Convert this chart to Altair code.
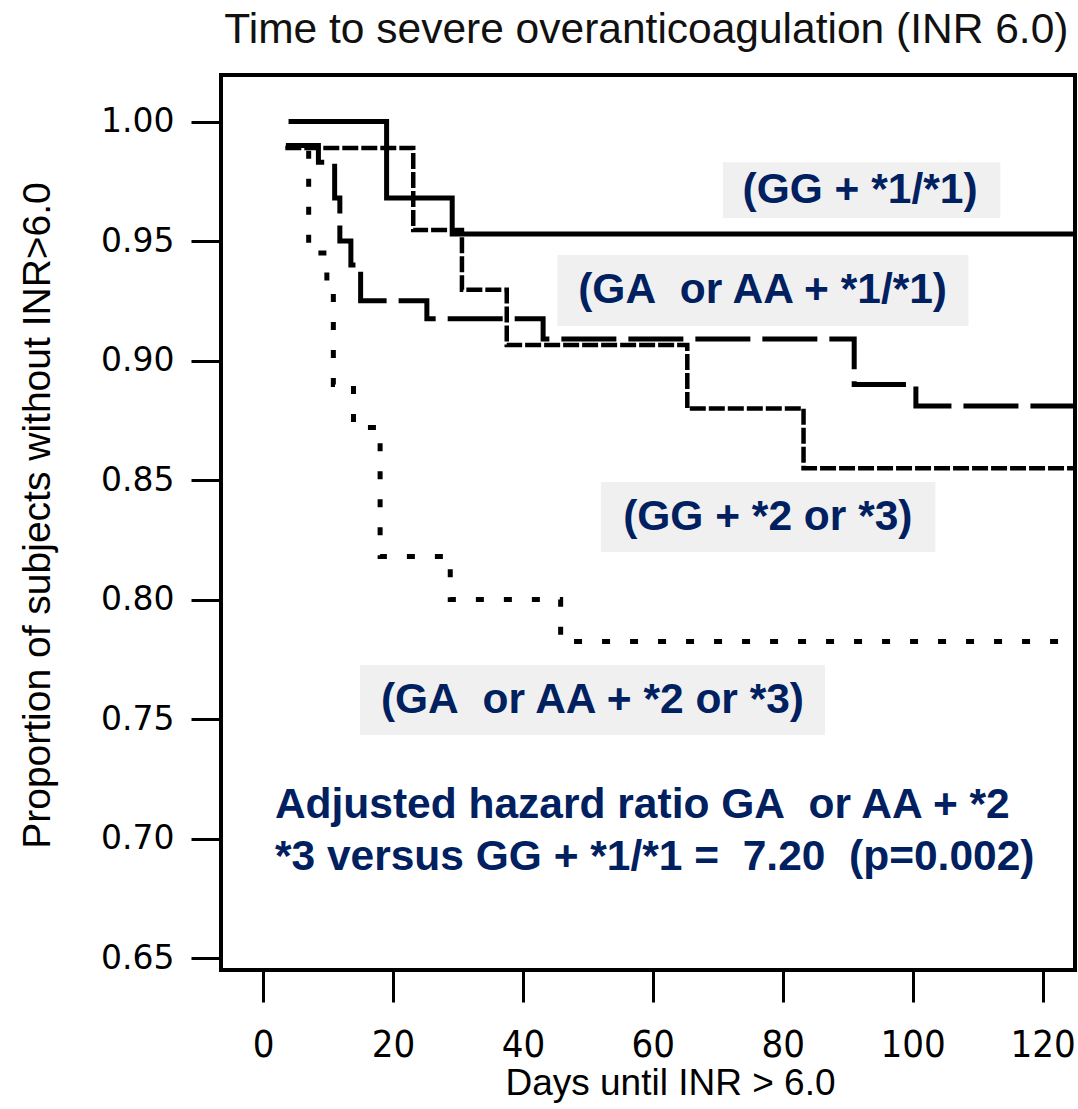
import altair as alt
import pandas as pd

# ---------------- data ----------------
X_END = 125.0

series_names = [
    "GG + *1/*1",
    "GA or AA + *1/*1",
    "GG + *2 or *3",
    "GA or AA + *2 or *3",
]

a_days = [3.9, 19.0, 29.1]
a_surv = [1.000, 0.968, 0.953]

b_days = [3.5, 8.5, 11.0, 11.8, 13.5, 15.0, 25.2, 43.1, 91.0, 100.5]
b_surv = [0.990, 0.983, 0.968, 0.950, 0.940, 0.925, 0.9175, 0.909, 0.890, 0.881]

c_days = [3.4, 23.1, 30.6, 37.5, 65.3, 83.2]
c_surv = [0.989, 0.9546, 0.9296, 0.9065, 0.880, 0.855]

d_days = [3.5, 7.0, 9.8, 10.8, 13.9, 18.0, 28.8, 45.8]
d_surv = [0.990, 0.945, 0.930, 0.890, 0.872, 0.818, 0.800, 0.7825]

x_ticks = [0, 20, 40, 60, 80, 100, 120]
y_ticks = [0.65, 0.70, 0.75, 0.80, 0.85, 0.90, 0.95, 1.00]

title_text = "Time to severe overanticoagulation (INR 6.0)"
label_texts = [
    "(GG + *1/*1)",
    "(GA\u00a0 or AA + *1/*1)",
    "(GG + *2 or *3)",
    "(GA\u00a0 or AA + *2 or *3)",
]
note_lines = [
    "Adjusted hazard ratio GA\u00a0 or AA + *2",
    "*3 versus GG + *1/*1 =\u00a0 7.20\u00a0 (p=0.002)",
]

# ---------------- tables ----------------
rows = []
for name, days, surv in zip(series_names,
                            [a_days, b_days, c_days, d_days],
                            [a_surv, b_surv, c_surv, d_surv]):
    for d, s in zip(days, surv):
        rows.append({"series": name, "day": d, "surv": s})
    rows.append({"series": name, "day": X_END, "surv": surv[-1]})
curves = pd.DataFrame(rows)

# annotation placement in data units
boxes = pd.DataFrame({
    "x1": [70.8, 45.3, 52.0, 14.9],
    "x2": [113.5, 108.6, 103.5, 86.5],
    "y1": [0.9597, 0.9145, 0.8199, 0.7433],
    "y2": [0.9830, 0.9442, 0.8492, 0.7726],
})
labels = pd.DataFrame({
    "x": [91.9, 76.9, 77.7, 50.7],
    "y": [0.9714, 0.9294, 0.8346, 0.7580],
    "text": label_texts,
})
notes = pd.DataFrame({
    "x": [1.8, 1.8],
    "y": [0.7086, 0.6868],
    "text": note_lines,
})
title_df = pd.DataFrame({"x": [59.0], "y": [1.0385], "text": [title_text]})

NAVY = "#002060"
X_DOM = [-6.5, 125.0]
Y_DOM = [0.645, 1.0195]

xs = alt.Scale(domain=X_DOM, nice=False, zero=False)
ys = alt.Scale(domain=Y_DOM, nice=False, zero=False)

x_axis = alt.Axis(
    values=x_ticks, format="d", grid=False, domain=False,
    tickSize=32, tickWidth=3, tickColor="black",
    labelFont="Liberation Sans Narrow, DejaVu Sans Condensed, sans-serif",
    labelFontSize=38, labelColor="black", labelPadding=24,
    title="Days until INR > 6.0",
    titleFont="Liberation Sans", titleFontSize=37, titleFontWeight="normal",
    titleColor="black", titleX=449, titleY=113,
    titleAlign="center", titleBaseline="middle",
)
y_axis = alt.Axis(
    values=y_ticks, format=".2f", grid=False, domain=False,
    tickSize=30, tickWidth=3, tickColor="black",
    labelFont="DejaVu Sans", labelFontSize=33, labelColor="black",
    labelPadding=17,
    title="Proportion of subjects without INR>6.0",
    titleFont="Liberation Sans", titleFontSize=39, titleFontWeight="normal",
    titleColor="black", titleX=-184, titleY=440, titleAngle=270,
    titleAlign="center", titleBaseline="middle",
)

base = alt.Chart(curves)

box_layer = alt.Chart(boxes).mark_rect(color="#f0f0f0").encode(
    x=alt.X("x1:Q", scale=xs, axis=x_axis),
    x2="x2:Q",
    y=alt.Y("y1:Q", scale=ys, axis=y_axis),
    y2="y2:Q",
)

styles = {
    series_names[0]: dict(strokeWidth=5),
    series_names[1]: dict(strokeWidth=5, strokeDash=[55, 12]),
    series_names[2]: dict(strokeWidth=4.5, strokeDash=[16, 3]),
    series_names[3]: dict(strokeWidth=5, strokeDash=[8, 20]),
}

line_layers = []
for name in series_names:
    line_layers.append(
        base.transform_filter(alt.datum.series == name)
        .mark_line(interpolate="step-after", color="black", clip=True,
                   **styles[name])
        .encode(
            x=alt.X("day:Q", scale=xs),
            y=alt.Y("surv:Q", scale=ys),
        )
    )

label_layer = alt.Chart(labels).mark_text(
    font="Liberation Sans", fontSize=42.5, fontWeight="bold", color=NAVY,
    align="center", baseline="middle",
).encode(x=alt.X("x:Q", scale=xs), y=alt.Y("y:Q", scale=ys), text="text:N")

note_layer = alt.Chart(notes).mark_text(
    font="Liberation Sans", fontSize=42.5, fontWeight="bold", color=NAVY,
    align="left", baseline="alphabetic",
).encode(x=alt.X("x:Q", scale=xs), y=alt.Y("y:Q", scale=ys), text="text:N")

title_layer = alt.Chart(title_df).mark_text(
    font="Liberation Sans", fontSize=42.5, color="#111111",
    align="center", baseline="middle",
).encode(x=alt.X("x:Q", scale=xs), y=alt.Y("y:Q", scale=ys), text="text:N")

chart = alt.layer(
    box_layer, *line_layers, label_layer, note_layer, title_layer
).properties(
    width=854,
    height=895,
    autosize=alt.AutoSizeParams(type="none"),
    padding={"left": 221, "top": 75, "right": 3, "bottom": 139},
).configure(
    background="white",
    view=alt.ViewConfig(stroke="black", strokeWidth=4),
)

chart.save("out.html", embed_options={"renderer": "svg", "actions": False})
